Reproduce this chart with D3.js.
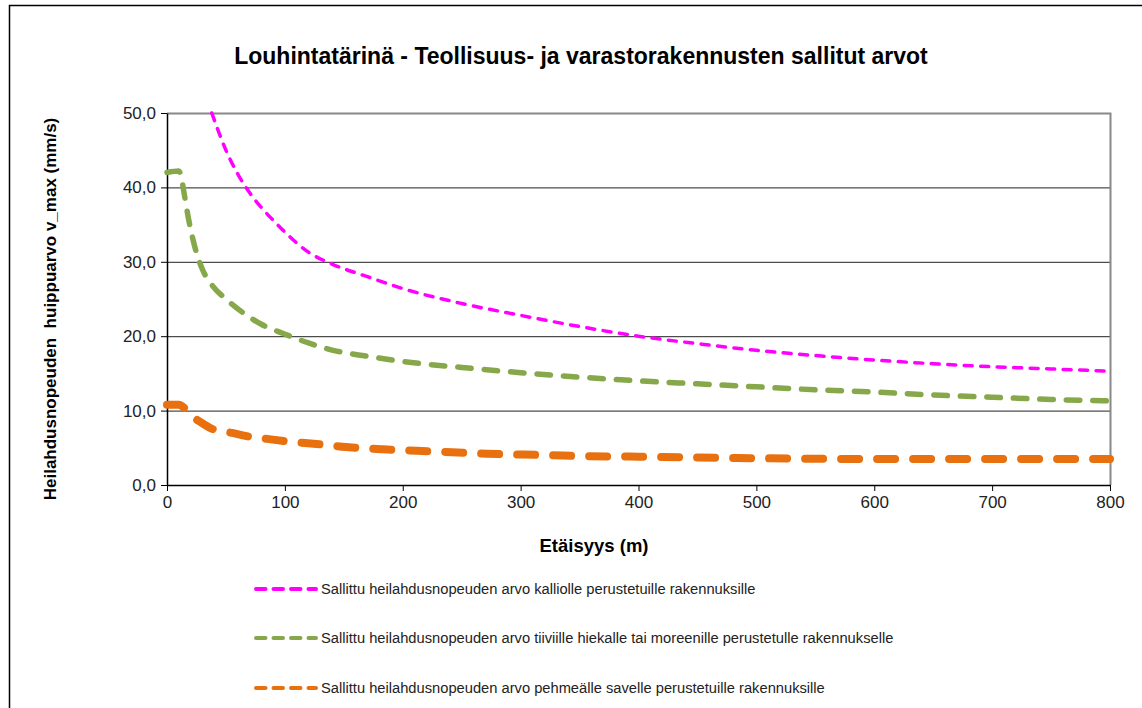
<!DOCTYPE html>
<html>
<head>
<meta charset="utf-8">
<script src="https://cdn.jsdelivr.net/npm/d3@7"></script>
<style>
  body { margin: 0; background: #fff; }
  svg { display: block; font-family: "Liberation Sans", Arial, sans-serif; }
</style>
</head>
<body>
<svg width="1142" height="708"></svg>
<script>
// data (distance m -> mm/s)
var kallioX = [38, 50, 60, 70, 80, 90, 100, 120, 140, 170, 200, 250, 300, 350, 400, 450, 500, 550, 600, 650, 700, 750, 800];
var kallioY = [50, 45, 41.8, 39.3, 37.3, 35.6, 34.0, 31.3, 29.7, 28.0, 26.4, 24.4, 22.8, 21.3, 20.0, 19.0, 18.1, 17.4, 16.8, 16.3, 15.9, 15.6, 15.3];

var hiekkaX = [0, 10, 12, 14, 18, 22, 25, 30, 39, 50, 65, 80, 98, 120, 141, 170, 200, 250, 300, 350, 400, 450, 500, 550, 600, 650, 700, 750, 800];
var hiekkaY = [42, 42.2, 41.5, 39.7, 36, 33, 31.2, 29, 26.7, 25, 23.1, 21.6, 20.4, 19.1, 18.1, 17.3, 16.6, 15.8, 15.1, 14.5, 14.0, 13.6, 13.2, 12.8, 12.5, 12.1, 11.8, 11.5, 11.3];

var saviX = [0, 10, 15, 20, 28, 39, 55, 70, 85, 100, 127, 152, 183, 212, 242, 271, 302, 350, 400, 450, 500, 600, 700, 800];
var saviY = [10.8, 10.8, 10.3, 9.4, 8.5, 7.5, 7.0, 6.5, 6.2, 5.9, 5.5, 5.1, 4.8, 4.6, 4.4, 4.2, 4.1, 3.9, 3.8, 3.7, 3.6, 3.5, 3.5, 3.5];

var xTicks = [0, 100, 200, 300, 400, 500, 600, 700, 800];
var yTicks = [0, 10, 20, 30, 40, 50];

var seriesNames = [
  "Sallittu heilahdusnopeuden arvo kalliolle perustetuille rakennuksille",
  "Sallittu heilahdusnopeuden arvo tiiviille hiekalle tai moreenille perustetulle rakennukselle",
  "Sallittu heilahdusnopeuden arvo pehmeälle savelle perustetuille rakennuksille"
];
var colors = ["#ff00ff", "#86a84a", "#e8700f"];

var svg = d3.select("svg");

// outer frame (only top + left visible in the picture)
svg.append("path")
  .attr("d", "M9.5,720 V5.5 H1150")
  .attr("fill", "none").attr("stroke", "#000").attr("stroke-width", 1.5);

var plotL = 167, plotR = 1110, plotT = 113, plotB = 485;

var x = d3.scaleLinear().domain([0, 800]).range([plotL, plotR]);
var y = d3.scaleLinear().domain([0, 50]).range([plotB, plotT]);

// grid lines
svg.append("g").selectAll("line")
  .data(yTicks.filter(d => d > 0 && d < 50))
  .enter().append("line")
  .attr("x1", plotL).attr("x2", plotR)
  .attr("y1", d => y(d) + 0.5).attr("y2", d => y(d) + 0.5)
  .attr("stroke", "#222").attr("stroke-width", 1);

// plot frame top + right (grey)
svg.append("path")
  .attr("d", "M" + plotL + "," + (plotT + 0.5) + " H" + (plotR + 0.5) + " V" + plotB)
  .attr("fill", "none").attr("stroke", "#888").attr("stroke-width", 2);

// axes
var xAxis = d3.axisBottom(x).tickValues(xTicks).tickSize(6).tickSizeOuter(0).tickPadding(5);
var yAxis = d3.axisLeft(y).tickValues(yTicks).tickSize(6).tickSizeOuter(0).tickPadding(5)
  .tickFormat(d => d3.format(".1f")(d).replace(".", ","));

var gx = svg.append("g").attr("transform", "translate(0," + plotB + ")").call(xAxis);
var gy = svg.append("g").attr("transform", "translate(" + plotL + ",0)").call(yAxis);
[gx, gy].forEach(g => {
  g.select(".domain").attr("stroke", "#000").attr("stroke-width", 1.5);
  g.selectAll(".tick line").attr("stroke", "#000");
  g.selectAll("text").attr("font-size", 17).attr("fill", "#222")
    .attr("font-family", "Liberation Sans, Arial, sans-serif");
});

// series
var line = d3.line().x(d => x(d[0])).y(d => y(d[1])).curve(d3.curveMonotoneX);
var series = [
  { xs: kallioX, ys: kallioY, w: 3.5, dash: "8,8.5" },
  { xs: hiekkaX, ys: hiekkaY, w: 5.5, dash: "13.5,13" },
  { xs: saviX, ys: saviY, w: 8, dash: "18,18" }
];
svg.append("g").selectAll("path")
  .data(series)
  .enter().append("path")
  .attr("d", s => line(s.xs.map((v, i) => [v, s.ys[i]])))
  .attr("fill", "none")
  .attr("stroke", (s, i) => colors[i])
  .attr("stroke-width", s => s.w)
  .attr("stroke-dasharray", s => s.dash)
  .attr("stroke-linecap", "round");

// title
svg.append("text")
  .attr("x", 581).attr("y", 64)
  .attr("text-anchor", "middle")
  .attr("font-size", 23).attr("font-weight", "bold").attr("fill", "#000")
  .text("Louhintatärinä - Teollisuus- ja varastorakennusten sallitut arvot");

// axis titles
svg.append("text")
  .attr("x", 594).attr("y", 552)
  .attr("text-anchor", "middle")
  .attr("font-size", 18.5).attr("font-weight", "bold").attr("fill", "#000")
  .text("Etäisyys (m)");

svg.append("text")
  .attr("transform", "translate(56,309) rotate(-90)")
  .attr("text-anchor", "middle")
  .attr("font-size", 17).attr("font-weight", "bold").attr("fill", "#000")
  .attr("xml:space", "preserve")
  .text("Heilahdusnopeuden  huippuarvo v_max (mm/s)");

// legend
var legendY = [589, 638, 688];
var lg = svg.append("g").selectAll("g")
  .data(seriesNames)
  .enter().append("g")
  .attr("transform", (d, i) => "translate(0," + legendY[i] + ")");
lg.append("line")
  .attr("x1", 256).attr("x2", 316).attr("y1", 0).attr("y2", 0)
  .attr("stroke", (d, i) => colors[i])
  .attr("stroke-width", 4)
  .attr("stroke-dasharray", "9.5,8")
  .attr("stroke-linecap", "round");
lg.append("text")
  .attr("x", 321).attr("y", 5)
  .attr("font-size", 14.7).attr("fill", "#222")
  .text(d => d);
</script>
</body>
</html>
